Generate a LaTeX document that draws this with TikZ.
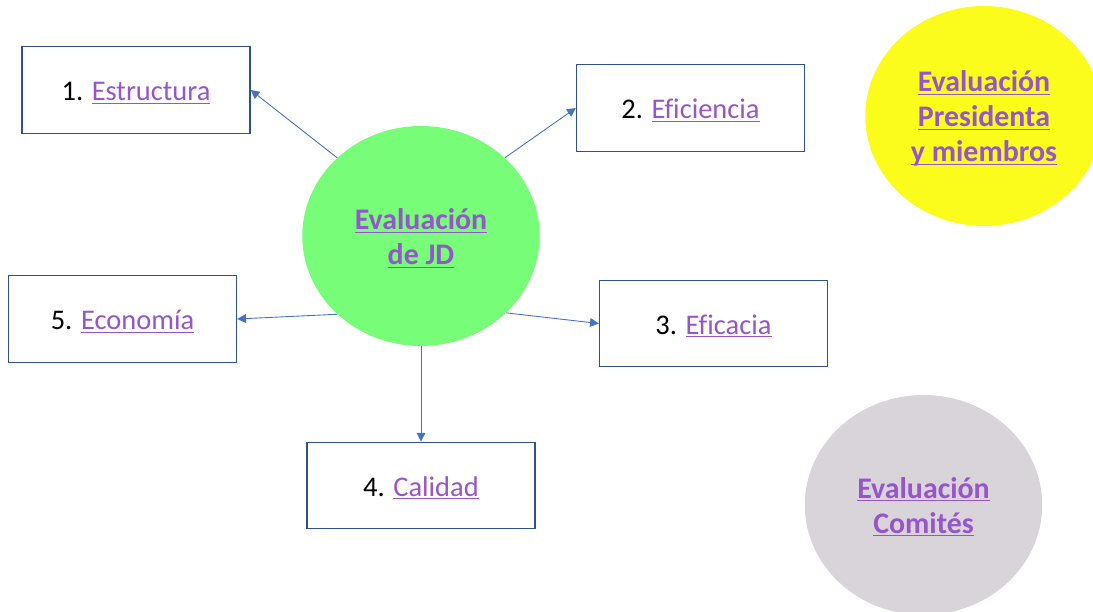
\documentclass[tikz,border=0pt]{standalone}
\usepackage{fontspec}
\setmainfont[Ligatures=NoCommon]{Carlito}
\usepackage{xcolor}
\usepackage{tikz}
\usetikzlibrary{arrows.meta}
\usetikzlibrary{shapes,shapes.geometric}
\definecolor{linkpurple}{HTML}{9655CC}
\definecolor{boxblue}{HTML}{2F528F}
\definecolor{arrowblue}{HTML}{4472C4}
\definecolor{jdgreen}{HTML}{77FD77}
\definecolor{presyellow}{HTML}{FCFC1C}
\definecolor{comgrey}{HTML}{D9D4DA}
\tikzset{
  criterio/.style={draw=boxblue, line width=0.8pt, fill=white, minimum width=4.56cm, minimum height=1.73cm, text height=0.48cm, text depth=0.06cm, font=\fontsize{16.2}{20}\selectfont},
  evalbubble/.style={ellipse, minimum width=4.75cm, minimum height=4.4cm, inner sep=0pt},
  evaltexto/.style={align=center, text=linkpurple, inner sep=0pt, font=\fontsize{17}{20}\selectfont\bfseries},
  flecha/.style={draw=arrowblue, line width=0.5pt, -{Triangle[length=5pt,width=5pt]}}
}
\newcommand{\subraya}[1]{\underline{\smash{#1}}\vphantom{#1}}
\newcommand{\enlace}[1]{\textcolor{linkpurple}{\subraya{#1}}}
\begin{document}
\begin{tikzpicture}[x=0.02cm, y=-0.02cm]
      \useasboundingbox (0,0) rectangle (1093,612);
      % bubbles
      \node[evalbubble, fill=jdgreen] (jd) at (421,236) {};
      \node[evaltexto] (jdtxt) at ([yshift=-0.05cm]jd.center) {\subraya{Evaluación}\\\subraya{de JD}};
      \node[evalbubble, fill=presyellow] (pres) at (984,116) {};
      \node[evaltexto] (prestxt) at ([yshift=-0.05cm]pres.center) {\subraya{Evaluación}\\\subraya{Presidenta}\\\subraya{y miembros}};
      \node[evalbubble, fill=comgrey] (com) at (923.5,505) {};
      \node[evaltexto] (comtxt) at ([yshift=-0.04cm]com.center) {\subraya{Evaluación}\\\subraya{Comités}};
      % criteria
      \node[criterio] (estr) at (136,90) {1. \enlace{Estructura}};
      \node[criterio] (efic) at (690.5,108) {2. \enlace{Eficiencia}};
      \node[criterio] (efca) at (713.5,323.5) {3. \enlace{Eficacia}};
      \node[criterio] (cal) at (421,485.5) {4. \enlace{Calidad}};
      \node[criterio] (econ) at (122.5,319) {5. \enlace{Economía}};
      % arrows
      \draw[flecha] (jd.137) -- (estr.east);
      \draw[flecha] (jd.43) -- (efic.west);
      \draw[flecha] (jd.-42) -- (efca.west);
      \draw[flecha] (jd.south) -- (cal.north);
      \draw[flecha] (jd.-137) -- (econ.east);
\end{tikzpicture}
\end{document}
